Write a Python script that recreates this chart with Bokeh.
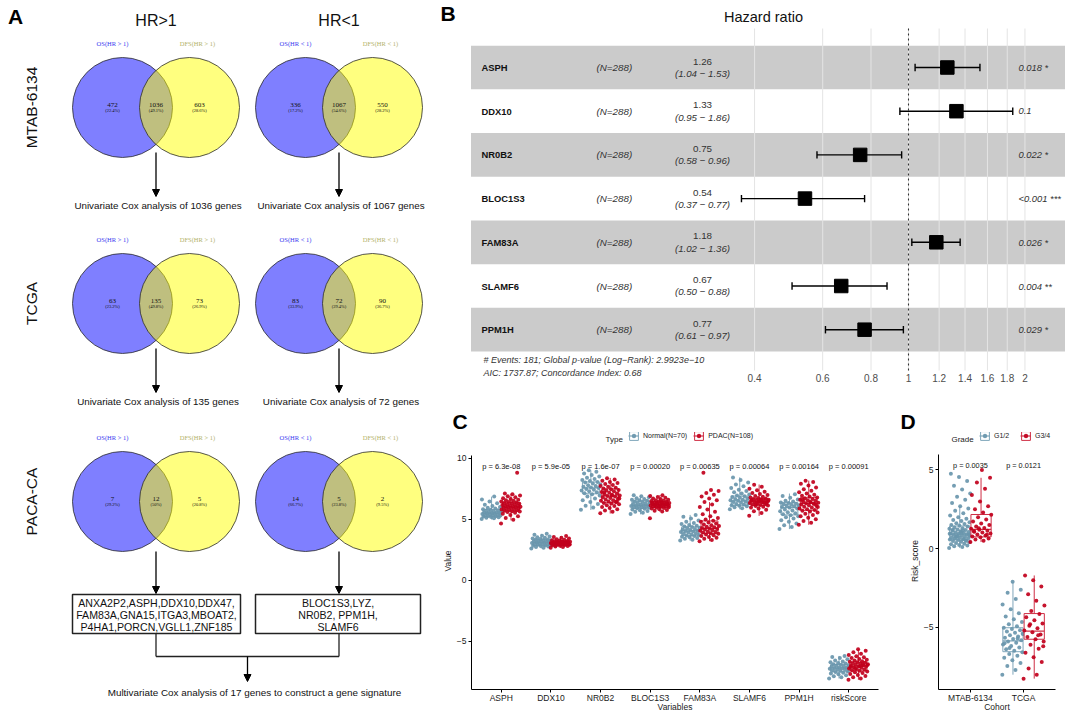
import math
from bokeh.plotting import figure
from bokeh.models import (Range1d, Arrow, NormalHead, FixedTicker, Legend, LegendItem, Title)
from bokeh.layouts import row, column
from bokeh.embed import file_html
from bokeh.resources import INLINE
from bokeh.core.properties import value

SANS = "Liberation Sans"
SERIF = "Liberation Serif"

# ---------------------------------------------------------------- Panel A data
venn_cohorts = ["MTAB-6134", "TCGA", "PACA-CA"]
venn_groups = ["HR>1", "HR<1"]
venn_os_labels = ["OS(HR > 1)", "OS(HR < 1)"]
venn_dfs_labels = ["DFS(HR > 1)", "DFS(HR < 1)"]
venn_os_only = [[472, 336], [63, 83], [7, 14]]
venn_both = [[1036, 1067], [135, 72], [12, 5]]
venn_dfs_only = [[603, 550], [73, 90], [5, 2]]
genes_up = ["ANXA2P2,ASPH,DDX10,DDX47,", "FAM83A,GNA15,ITGA3,MBOAT2,", "P4HA1,PORCN,VGLL1,ZNF185"]
genes_down = ["BLOC1S3,LYZ,", "NR0B2, PPM1H,", "SLAMF6"]

# ---------------------------------------------------------------- Panel B data
fp_genes = ["ASPH", "DDX10", "NR0B2", "BLOC1S3", "FAM83A", "SLAMF6", "PPM1H"]
fp_n = [288, 288, 288, 288, 288, 288, 288]
fp_hr = [1.26, 1.33, 0.75, 0.54, 1.18, 0.67, 0.77]
fp_lo = [1.04, 0.95, 0.58, 0.37, 1.02, 0.50, 0.61]
fp_hi = [1.53, 1.86, 0.96, 0.77, 1.36, 0.88, 0.97]
fp_p = ["0.018 *", "0.1", "0.022 *", "<0.001 ***", "0.026 *", "0.004 **", "0.029 *"]
fp_ticks = [0.4, 0.6, 0.8, 1, 1.2, 1.4, 1.6, 1.8, 2]
fp_tick_labels = ["0.4", "0.6", "0.8", "1", "1.2", "1.4", "1.6", "1.8", "2"]
fp_events = 181
fp_global_p = "2.9923e\u221210"
fp_aic = 1737.87
fp_cindex = 0.68

# ---------------------------------------------------------------- Panel C data
c_vars = ["ASPH", "DDX10", "NR0B2", "BLOC1S3", "FAM83A", "SLAMF6", "PPM1H", "riskScore"]
c_pvals = ["p = 6.3e-08", "p = 5.9e-05", "p = 1.6e-07", "p = 0.00020",
           "p = 0.00635", "p = 0.00064", "p = 0.00164", "p = 0.00091"]
c_n_normal = 70
c_n_pdac = 108
c_normal_q1 = [5.2, 2.84, 7.08, 5.89, 3.65, 6.14, 5.35, -7.51]
c_normal_med = [5.5, 3.1, 7.57, 6.14, 4.05, 6.49, 5.95, -7.19]
c_normal_q3 = [5.8, 3.32, 8.05, 6.49, 4.38, 6.89, 6.35, -6.89]
c_normal_lo = [4.97, 2.6, 5.75, 5.4, 3.24, 5.81, 4.19, -8.05]
c_normal_hi = [6.85, 3.8, 9.0, 6.97, 5.35, 8.43, 7.1, -6.2]
c_pdac_q1 = [5.68, 2.84, 6.35, 5.95, 3.84, 6.14, 5.73, -7.43]
c_pdac_med = [6.0, 3.03, 6.9, 6.2, 4.24, 6.43, 6.3, -7.03]
c_pdac_q3 = [6.35, 3.2, 7.49, 6.43, 4.86, 6.68, 6.76, -6.7]
c_pdac_lo = [4.9, 2.65, 5.46, 5.62, 3.2, 5.27, 4.54, -8.16]
c_pdac_hi = [7.1, 3.62, 8.38, 6.97, 6.4, 7.84, 8.16, -5.62]

asph_normal = [5.02, 5.08, 5.12, 5.15, 5.18, 5.21, 5.24, 5.26, 5.3, 5.33, 5.35, 5.37, 5.4, 5.43, 5.45,
               5.47, 5.5, 5.51, 5.54, 5.56, 5.6, 5.63, 5.66, 5.7, 5.74, 5.78, 5.82, 5.87, 5.93, 6.0,
               6.08, 6.18, 6.3, 6.45, 6.62, 6.85]
asph_pdac = [4.65, 4.95, 5.1, 5.25, 5.35, 5.45, 5.52, 5.58, 5.62, 5.66, 5.7, 5.73, 5.76, 5.8, 5.83,
             5.86, 5.9, 5.92, 5.95, 5.97, 6.0, 6.02, 6.05, 6.08, 6.1, 6.13, 6.16, 6.2, 6.23, 6.26,
             6.3, 6.33, 6.36, 6.4, 6.45, 6.5, 6.55, 6.6, 6.65, 6.72, 6.8, 6.88, 6.95, 7.05, 7.1, 8.8]
ddx10_normal = [2.6, 2.66, 2.72, 2.76, 2.8, 2.83, 2.86, 2.9, 2.93, 2.96, 2.98, 3.0, 3.03, 3.05, 3.08,
                3.1, 3.12, 3.15, 3.17, 3.2, 3.23, 3.26, 3.29, 3.31, 3.34, 3.38, 3.42, 3.47, 3.52,
                3.58, 3.65, 3.72, 3.8]
ddx10_pdac = [2.66, 2.72, 2.76, 2.8, 2.83, 2.86, 2.88, 2.9, 2.92, 2.94, 2.96, 2.98, 3.0, 3.01, 3.03,
              3.04, 3.06, 3.08, 3.1, 3.12, 3.14, 3.16, 3.18, 3.2, 3.22, 3.25, 3.28, 3.32, 3.36, 3.41,
              3.47, 3.55, 3.62, 2.95, 3.05, 3.0, 2.87, 3.13, 3.09, 2.99, 3.02, 3.07, 2.93, 3.15]
nr0b2_normal = [5.78, 5.95, 6.1, 6.25, 6.4, 6.55, 6.7, 6.85, 6.95, 7.05, 7.12, 7.2, 7.28, 7.35, 7.42,
                7.48, 7.55, 7.6, 7.65, 7.72, 7.78, 7.85, 7.92, 8.0, 8.05, 8.12, 8.2, 8.3, 8.4, 8.5,
                8.62, 8.75, 8.88, 9.0]
nr0b2_pdac = [5.48, 5.6, 5.72, 5.82, 5.92, 6.0, 6.08, 6.15, 6.22, 6.28, 6.33, 6.38, 6.44, 6.5, 6.56,
              6.62, 6.68, 6.74, 6.8, 6.85, 6.9, 6.95, 7.0, 7.05, 7.1, 7.16, 7.22, 7.28, 7.34, 7.4,
              7.46, 7.52, 7.58, 7.65, 7.72, 7.8, 7.88, 7.96, 8.05, 8.15, 8.25, 8.35, 6.7, 6.95, 7.2, 6.45]
bloc1s3_normal = [5.42, 5.52, 5.6, 5.68, 5.74, 5.8, 5.85, 5.9, 5.93, 5.97, 6.0, 6.03, 6.06, 6.09, 6.12,
                  6.14, 6.17, 6.2, 6.24, 6.28, 6.32, 6.36, 6.4, 6.45, 6.5, 6.55, 6.6, 6.66, 6.72, 6.8,
                  6.88, 6.96]
bloc1s3_pdac = [5.08, 5.62, 5.7, 5.76, 5.82, 5.87, 5.91, 5.95, 5.98, 6.01, 6.04, 6.07, 6.1, 6.13, 6.16,
                6.18, 6.2, 6.22, 6.24, 6.27, 6.3, 6.33, 6.36, 6.39, 6.42, 6.45, 6.48, 6.52, 6.56, 6.6,
                6.65, 6.7, 6.76, 6.82, 6.9, 6.96, 6.15, 6.25, 6.05, 6.35, 6.19, 6.28, 6.11, 6.4]
fam83a_normal = [3.25, 3.32, 3.4, 3.46, 3.52, 3.57, 3.62, 3.66, 3.7, 3.75, 3.8, 3.85, 3.9, 3.95, 4.0,
                 4.04, 4.08, 4.12, 4.16, 4.2, 4.25, 4.3, 4.35, 4.4, 4.46, 4.52, 4.6, 4.68, 4.78, 4.9,
                 5.05, 5.2, 5.35]
fam83a_pdac = [3.2, 3.3, 3.4, 3.48, 3.55, 3.62, 3.68, 3.74, 3.8, 3.85, 3.9, 3.95, 4.0, 4.05, 4.1,
               4.15, 4.2, 4.24, 4.28, 4.33, 4.38, 4.44, 4.5, 4.57, 4.64, 4.72, 4.8, 4.88, 4.98, 5.1,
               5.25, 5.4, 5.6, 5.8, 6.0, 6.2, 6.4, 6.55, 6.7, 6.85, 7.0, 7.15, 7.3, 7.4, 8.8]
slamf6_normal = [5.82, 5.9, 5.98, 6.05, 6.1, 6.15, 6.2, 6.25, 6.3, 6.35, 6.4, 6.45, 6.5, 6.55, 6.6,
                 6.65, 6.7, 6.76, 6.82, 6.88, 6.95, 7.02, 7.1, 7.2, 7.3, 7.42, 7.55, 7.7, 7.85, 8.0,
                 8.2, 8.42]
slamf6_pdac = [5.28, 5.5, 5.65, 5.78, 5.88, 5.95, 6.02, 6.08, 6.12, 6.16, 6.2, 6.24, 6.28, 6.32, 6.36,
               6.4, 6.43, 6.46, 6.5, 6.53, 6.56, 6.6, 6.63, 6.66, 6.7, 6.74, 6.78, 6.84, 6.9, 6.98,
               7.06, 7.15, 7.25, 7.38, 7.5, 7.65, 7.82, 6.3, 6.45, 6.55, 6.38, 6.25, 6.48, 6.6]
ppm1h_normal = [4.2, 4.35, 4.5, 4.65, 4.8, 4.92, 5.05, 5.15, 5.25, 5.32, 5.4, 5.48, 5.56, 5.64, 5.72,
                5.8, 5.88, 5.95, 6.0, 6.05, 6.1, 6.14, 6.18, 6.22, 6.27, 6.32, 6.37, 6.44, 6.52, 6.62,
                6.75, 6.9, 7.05]
ppm1h_pdac = [4.55, 4.7, 4.85, 5.0, 5.12, 5.25, 5.35, 5.45, 5.55, 5.62, 5.7, 5.76, 5.82, 5.88, 5.95,
              6.02, 6.08, 6.14, 6.2, 6.26, 6.3, 6.34, 6.39, 6.44, 6.5, 6.55, 6.6, 6.66, 6.72, 6.78,
              6.85, 6.92, 7.0, 7.1, 7.2, 7.32, 7.45, 7.6, 7.75, 7.9, 8.05, 8.15, 6.0, 6.4, 6.6, 6.25]
risk_normal = [-8.05, -7.95, -7.86, -7.78, -7.7, -7.63, -7.57, -7.52, -7.47, -7.42, -7.38, -7.34,
               -7.3, -7.26, -7.22, -7.19, -7.16, -7.12, -7.08, -7.04, -7.0, -6.96, -6.92, -6.88,
               -6.83, -6.78, -6.72, -6.65, -6.57, -6.48, -6.38, -6.28, -6.2]
risk_pdac = [-8.16, -8.05, -7.95, -7.85, -7.76, -7.68, -7.6, -7.53, -7.47, -7.42, -7.37, -7.32,
             -7.27, -7.22, -7.17, -7.12, -7.08, -7.04, -7.0, -6.96, -6.92, -6.88, -6.84, -6.8,
             -6.76, -6.72, -6.68, -6.63, -6.58, -6.52, -6.45, -6.38, -6.3, -6.22, -6.12, -6.02,
             -5.9, -5.78, -5.65, -7.1, -6.9, -7.25, -6.95, -7.05]
c_normal_points = [asph_normal, ddx10_normal, nr0b2_normal, bloc1s3_normal,
                   fam83a_normal, slamf6_normal, ppm1h_normal, risk_normal]
c_pdac_points = [asph_pdac, ddx10_pdac, nr0b2_pdac, bloc1s3_pdac,
                 fam83a_pdac, slamf6_pdac, ppm1h_pdac, risk_pdac]

# ---------------------------------------------------------------- Panel D data
d_cohorts = ["MTAB-6134", "TCGA"]
d_pvals = ["p = 0.0035", "p = 0.0121"]
d_g12_q1 = [0.56, -6.54]
d_g12_med = [0.92, -5.85]
d_g12_q3 = [1.44, -5.02]
d_g12_lo = [0.04, -8.0]
d_g12_hi = [2.7, -2.1]
d_g34_q1 = [0.75, -5.75]
d_g34_med = [1.23, -5.23]
d_g34_q3 = [2.17, -4.12]
d_g34_lo = [0.42, -8.25]
d_g34_hi = [4.5, -1.7]
mtab_g12 = [0.05, 0.1, 0.15, 0.2, 0.24, 0.28, 0.32, 0.36, 0.4, 0.44, 0.48, 0.52, 0.55, 0.58, 0.61,
            0.64, 0.67, 0.7, 0.73, 0.76, 0.79, 0.82, 0.85, 0.88, 0.91, 0.94, 0.97, 1.0, 1.03, 1.06,
            1.1, 1.14, 1.18, 1.22, 1.26, 1.3, 1.35, 1.4, 1.45, 1.5, 1.56, 1.62, 1.68, 1.75, 1.82,
            1.9, 2.0, 2.1, 2.25, 2.4, 2.55, 2.7, 2.9, 3.1, 3.3, 3.5, 3.75, 4.0, 4.3, 4.55, 4.75,
            0.6, 0.75, 0.9, 1.05, 1.2, 0.5, 0.8, 0.95, 1.15]
mtab_g34 = [0.42, 0.5, 0.58, 0.65, 0.72, 0.78, 0.84, 0.9, 0.96, 1.02, 1.08, 1.14, 1.2, 1.26, 1.32,
            1.4, 1.5, 1.6, 1.72, 1.85, 2.0, 2.15, 2.3, 2.5, 2.7, 3.0, 3.4, 3.8, 4.2, 4.5, 5.0,
            1.1, 0.88, 1.3]
tcga_g12 = [-8.0, -7.7, -7.45, -7.25, -7.08, -6.92, -6.8, -6.68, -6.58, -6.48, -6.38, -6.28, -6.18,
            -6.08, -5.98, -5.9, -5.82, -5.74, -5.66, -5.58, -5.5, -5.42, -5.34, -5.26, -5.18, -5.1,
            -5.02, -4.92, -4.8, -4.65, -4.48, -4.3, -4.1, -3.85, -3.55, -3.2, -2.8, -2.6, -2.1,
            -6.0, -5.7, -6.3, -5.4]
tcga_g34 = [-8.25, -8.0, -7.6, -7.2, -6.9, -6.6, -6.35, -6.1, -5.9, -5.75, -5.6, -5.45, -5.3, -5.2,
            -5.05, -4.9, -4.75, -4.55, -4.35, -4.15, -3.95, -3.6, -3.3, -2.9, -2.4, -2.0, -1.7,
            -5.5, -4.8, -6.2]
d_g12_points = [mtab_g12, tcga_g12]
d_g34_points = [mtab_g34, tcga_g34]

BLUE_PT = "#6996AD"
BLUE_BOX = "#7FA6BA"
RED_PT = "#C1001C"
RED_BOX = "#CF2E45"


def jitter_offsets(n, half_width):
    # deterministic horizontal spread (position only)
    return [(((k * 0.6180339887) % 1.0) * 2 - 1) * half_width for k in range(n)]


def pct(v, tot):
    s = f"{100.0 * v / tot:.1f}"
    if s.endswith(".0"):
        s = s[:-2]
    return f"({s}%)"


def txt(p, x, y, t, size, color="#111111", align="center", style="normal", font=SANS, angle=0.0):
    p.text(x=x, y=y, text=t, text_font=value(font), text_font_size=size, text_font_style=style,
           text_align=align, text_baseline="middle", text_color=color, angle=angle)


# ================================================================= Panel A (x 0-432)
WA = 432
pA = figure(width=WA, height=714, x_range=Range1d(0, WA), y_range=Range1d(714, 0),
            toolbar_location=None, output_backend="svg", min_border=0,
            x_axis_location=None, y_axis_location=None, outline_line_color=None)
pA.grid.visible = False

row_cy = [107, 303, 501]
col_cx = [155.5, 338.5]
DX = 33.5
RAD = 50
HEAD = dict(size=7, fill_color="black", line_color="black")

for r, cy in enumerate(row_cy):
    pA.circle(x=[cx - DX for cx in col_cx], y=[cy, cy], radius=RAD, fill_color="blue", fill_alpha=0.5,
              line_color="#2b2b2b", line_width=0.8)
    pA.circle(x=[cx + DX for cx in col_cx], y=[cy, cy], radius=RAD, fill_color="yellow", fill_alpha=0.5,
              line_color="#2b2b2b", line_width=0.8)
    for c, cx in enumerate(col_cx):
        a, b, d = venn_os_only[r][c], venn_both[r][c], venn_dfs_only[r][c]
        tot = a + b + d
        xs = [cx - DX - 10, cx, cx + DX + 10]
        txt(pA, xs, [cy - 3] * 3, [str(a), str(b), str(d)], "7px", font=SERIF)
        txt(pA, xs, [cy + 2.5] * 3, [pct(a, tot), pct(b, tot), pct(d, tot)], "4.5px", font=SERIF)
        txt(pA, [cx - DX - 10], [cy - 64], [venn_os_labels[c]], "6.5px", color="#3a3af0", font=SERIF)
        txt(pA, [cx + DX + 8], [cy - 64], [venn_dfs_labels[c]], "6.5px", color="#b3b36a", font=SERIF)
        if r < 2:
            pA.add_layout(Arrow(end=NormalHead(**HEAD), x_start=cx, y_start=cy + 45, x_end=cx,
                                y_end=cy + 89, line_width=1.3, line_color="black"))
            txt(pA, [cx + 2], [cy + 98], [f"Univariate Cox analysis of {b} genes"], "9.8px")
        else:
            pA.add_layout(Arrow(end=NormalHead(**HEAD), x_start=cx, y_start=cy + 50, x_end=cx,
                                y_end=593, line_width=1.3, line_color="black"))
    txt(pA, [31], [cy], [venn_cohorts[r]], "15.5px", angle=math.pi / 2)

txt(pA, col_cx, [20, 20], venn_groups, "16px")
txt(pA, [15], [16], ["A"], "21px", color="black", style="bold")

pA.quad(left=[72, 255], right=[240, 420], top=[594, 594], bottom=[633, 633],
        fill_color="white", line_color="#222222", line_width=1.5)
for k, t in enumerate(genes_up):
    txt(pA, [156], [602 + 12 * k], [t], "10.6px")
for k, t in enumerate(genes_down):
    txt(pA, [337.5], [602 + 12 * k], [t], "10.6px")
pA.segment(x0=[col_cx[0], col_cx[1], col_cx[0]], y0=[633, 633, 656],
           x1=[col_cx[0], col_cx[1], col_cx[1]], y1=[656, 656, 656], line_color="#222222", line_width=1.3)
mid = (col_cx[0] + col_cx[1]) / 2
pA.add_layout(Arrow(end=NormalHead(**HEAD), x_start=mid, y_start=656, x_end=mid, y_end=681,
                    line_width=1.3, line_color="black"))
n_sig = venn_both[2][0] + venn_both[2][1]
txt(pA, [254], [692], [f"Multivariate Cox analysis of {n_sig} genes to construct a gene signature"], "9.9px")

# ================================================================= Panel B (x 432-1065, y 0-404)


def bx(px):
    return math.exp((px - 908.0) / 168.0)


def by(py):
    return 7.0 - (py - 67.0) / 43.7


pB = figure(width=1065 - WA, height=404, x_axis_type="log",
            x_range=Range1d(bx(WA), bx(1065)), y_range=Range1d(by(404), by(0)),
            toolbar_location=None, output_backend="svg", min_border=0,
            x_axis_location=None, y_axis_location=None, outline_line_color=None)
pB.grid.visible = False

nr = len(fp_genes)
fp_y = [nr - i for i in range(nr)]
band_y = [fp_y[i] for i in range(nr) if i % 2 == 0]
pB.quad(left=bx(470.5), right=bx(1075), bottom=[y - 0.5 for y in band_y], top=[y + 0.5 for y in band_y],
        fill_color="#CBCBCB", line_color=None)
pB.segment(x0=fp_ticks, x1=fp_ticks, y0=by(370), y1=by(28), line_color="#E4E4E4", line_width=1)
pB.segment(x0=[1], x1=[1], y0=[by(370)], y1=[by(28)], line_color="#333333", line_width=1.1, line_dash="2 3")

pB.segment(x0=fp_lo, x1=fp_hi, y0=fp_y, y1=fp_y, line_color="black", line_width=1.4)
pB.segment(x0=fp_lo, x1=fp_lo, y0=[y - 0.085 for y in fp_y], y1=[y + 0.085 for y in fp_y],
           line_color="black", line_width=1.4)
pB.segment(x0=fp_hi, x1=fp_hi, y0=[y - 0.085 for y in fp_y], y1=[y + 0.085 for y in fp_y],
           line_color="black", line_width=1.4)
pB.scatter(x=fp_hr, y=fp_y, marker="square", size=13.5, fill_color="black", line_color="black")

txt(pB, bx(481), fp_y, fp_genes, "9.4px", align="left", style="bold")
txt(pB, bx(596), fp_y, [f"(N={n})" for n in fp_n], "9.8px", color="#333333", align="left", style="italic")
txt(pB, bx(702), [y + 0.135 for y in fp_y], [f"{h:.2f}" for h in fp_hr], "9.8px", color="#333333")
txt(pB, bx(702), [y - 0.135 for y in fp_y],
    [f"({a:.2f} \u2212 {b:.2f})" for a, b in zip(fp_lo, fp_hi)], "9.7px", color="#333333", style="italic")
txt(pB, bx(1018), fp_y, fp_p, "9.4px", color="#333333", align="left", style="italic")
txt(pB, fp_ticks, by(377), fp_tick_labels, "10px", color="#4D4D4D")

txt(pB, [bx(763)], [by(16)], ["Hazard ratio"], "14.5px")
txt(pB, [bx(440)], [by(13)], ["B"], "21px", color="black", align="left", style="bold")
txt(pB, [bx(483)], [by(359)], [f"# Events: {fp_events}; Global p-value (Log\u2212Rank): {fp_global_p}"],
    "9px", color="#333333", align="left", style="italic")
txt(pB, [bx(483)], [by(372)], [f"AIC: {fp_aic}; Concordance Index: {fp_cindex}"],
    "9px", color="#333333", align="left", style="italic")


# ================================================================= Panels C & D
def style_axes(p, yticks, ybounds, xticks, xlabels, ylabel, xlabel):
    for ax in (p.xaxis[0], p.yaxis[0]):
        ax.axis_line_color = "black"
        ax.axis_line_width = 1
        ax.major_tick_line_color = "black"
        ax.major_tick_out = 3
        ax.major_tick_in = 0
        ax.minor_tick_line_color = None
        ax.major_label_text_font = SANS
        ax.major_label_text_font_size = "8.5px"
        ax.major_label_text_color = "#1a1a1a"
        ax.axis_label_text_font = SANS
        ax.axis_label_text_font_size = "8.5px"
        ax.axis_label_text_font_style = "normal"
        ax.axis_label_text_color = "#1a1a1a"
    p.yaxis[0].ticker = FixedTicker(ticks=yticks)
    p.yaxis[0].bounds = ybounds
    p.yaxis[0].major_label_standoff = 2
    p.xaxis[0].ticker = FixedTicker(ticks=xticks)
    p.xaxis[0].major_label_overrides = {t: l for t, l in zip(xticks, xlabels)}
    p.xaxis[0].major_label_standoff = 0
    p.yaxis[0].axis_label = ylabel
    p.yaxis[0].axis_label_standoff = 1
    p.xaxis[0].axis_label = xlabel
    p.xaxis[0].axis_label_standoff = -4
    p.grid.visible = False


def draw_groups(p, ncat, groups, half_box, jit):
    rends = []
    for (off, q1, med, q3, lo, hi, pts, cbox, cpt) in groups:
        xc = [i + 1 + off for i in range(ncat)]
        rb = p.quad(left=[x - half_box for x in xc], right=[x + half_box for x in xc], bottom=q1, top=q3,
                    fill_color="white", line_color=cbox, line_width=1)
        p.segment(x0=xc, x1=xc, y0=q3, y1=hi, line_color=cbox, line_width=1)
        p.segment(x0=xc, x1=xc, y0=q1, y1=lo, line_color=cbox, line_width=1)
        rm = p.segment(x0=[x - half_box for x in xc], x1=[x + half_box for x in xc], y0=med, y1=med,
                       line_color=cbox, line_width=1.2)
        xs, ys = [], []
        for i, vals in enumerate(pts):
            offs = jitter_offsets(len(vals), jit)
            xs += [xc[i] + o for o in offs]
            ys += list(vals)
        rp = p.scatter(x=xs, y=ys, size=4, fill_color=cpt, line_color=None, fill_alpha=0.92)
        rends.append((rb, rm, rp))
    return rends


def add_legend(p, labels, rends, loc):
    items = [LegendItem(label=l, renderers=list(r)) for l, r in zip(labels, rends)]
    leg = Legend(items=items, orientation="horizontal", location=loc,
                 border_line_color=None, background_fill_alpha=0, label_text_font=SANS,
                 label_text_font_size="7px", label_text_color="#222222", glyph_width=11, glyph_height=11,
                 label_standoff=4, spacing=6, padding=0, margin=0)
    p.add_layout(leg, "center")


def add_letter(p, letter, offset):
    p.add_layout(Title(text=letter, align="left", offset=offset, standoff=0, text_font=SANS,
                       text_font_size="21px", text_font_style="bold", text_color="black"), "above")


# ---- C (x 432-900, y 404-714); value -> ref y: 582 - 12.4 v
pC = figure(width=900 - WA, height=310, x_range=Range1d(0.4, 8.6), y_range=Range1d(-8.95, 12.1),
            toolbar_location=None, output_backend="svg", min_border=0,
            min_border_left=471 - WA, min_border_right=22, min_border_top=28, min_border_bottom=21,
            outline_line_color=None)
nC = len(c_vars)
style_axes(pC, [-5, 0, 5, 10], (-8.95, 10.25), list(range(1, nC + 1)), c_vars, "Value", "Variables")
rc = draw_groups(pC, nC, [
    (-0.195, c_normal_q1, c_normal_med, c_normal_q3, c_normal_lo, c_normal_hi, c_normal_points, BLUE_BOX, BLUE_PT),
    (0.195, c_pdac_q1, c_pdac_med, c_pdac_q3, c_pdac_lo, c_pdac_hi, c_pdac_points, RED_BOX, RED_PT),
], 0.17, 0.2)
txt(pC, list(range(1, nC + 1)), 9.35, c_pvals, "7.5px")
txt(pC, [3.1], [11.53], ["Type"], "8px", color="#222222", align="left")
add_legend(pC, [f"Normal(N={c_n_normal})", f"PDAC(N={c_n_pdac})"], rc, (157, 248))
add_letter(pC, "C", -19)

# ---- D (x 900-1065); value -> ref y: 550 - 16 v
pD = figure(width=165, height=310, x_range=Range1d(0.4, 2.6), y_range=Range1d(-8.94, 7.375),
            toolbar_location=None, output_backend="svg", min_border=0,
            min_border_left=38, min_border_right=10, min_border_top=28, min_border_bottom=21,
            outline_line_color=None)
nD = len(d_cohorts)
style_axes(pD, [-5, 0, 5], (-8.94, 5.95), list(range(1, nD + 1)), d_cohorts, "Risk_score", "Cohort")
rd = draw_groups(pD, nD, [
    (-0.2, d_g12_q1, d_g12_med, d_g12_q3, d_g12_lo, d_g12_hi, d_g12_points, BLUE_BOX, BLUE_PT),
    (0.2, d_g34_q1, d_g34_med, d_g34_q3, d_g34_lo, d_g34_hi, d_g34_points, RED_BOX, RED_PT),
], 0.19, 0.2)
txt(pD, list(range(1, nD + 1)), 5.25, d_pvals, "7.3px")
txt(pD, [0.644], [6.94], ["Grade"], "8px", color="#222222", align="left")
add_legend(pD, ["G1/2", "G3/4"], rd, (41, 248))
add_letter(pD, "D", -38)

layout = row(pA, column(pB, row(pC, pD)))
open("out.html", "w").write(file_html(layout, INLINE))
